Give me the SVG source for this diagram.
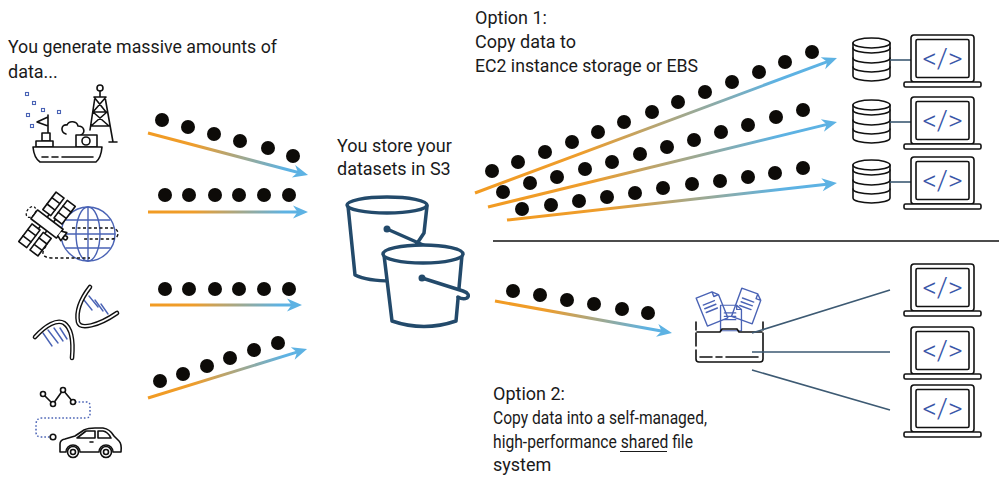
<svg xmlns="http://www.w3.org/2000/svg" width="999" height="478" viewBox="0 0 999 478">
  <style>
    .txt { font-family: Roboto, "Liberation Sans", sans-serif; font-size: 18px; fill: #1a1a1a; }
    .code { font-family: Roboto, "DejaVu Sans", sans-serif; font-weight: 300; font-size: 28px; fill: #3a56a8; text-anchor: middle; }
    .dot { fill: #0d0b08; }
    .flow { stroke-width: 3; fill: none; }
    .ln { fill: none; stroke: #111; stroke-width: 1.6; stroke-linecap: round; stroke-linejoin: round; }
    .lnw { fill: #fff; stroke: #111; stroke-width: 1.6; stroke-linecap: round; stroke-linejoin: round; }
    .blue { fill: none; stroke: #4a63b5; stroke-width: 1.4; stroke-linecap: round; stroke-linejoin: round; }
    .bucket { fill: #fff; stroke: #234a6b; stroke-width: 3.5; stroke-linecap: round; stroke-linejoin: round; }
    .wire { stroke: #3d5a73; stroke-width: 1.6; fill: none; }
    .dna { fill: none; stroke: #111; stroke-width: 4.6; stroke-linecap: round; }
    .dna-in { fill: none; stroke: #fff; stroke-width: 1.8; stroke-linecap: round; }
  </style>
  <defs>
    <marker id="head" markerUnits="userSpaceOnUse" markerWidth="20" markerHeight="20" refX="0" refY="0" viewBox="-10 -10 20 20" orient="auto" overflow="visible">
      <path d="M8,0 L-7,-6.5 L-2.5,0 L-7,6.5 Z" fill="#5db2e3"/>
    </marker>
    <linearGradient id="gL1" gradientUnits="userSpaceOnUse" x1="148" y1="133" x2="300" y2="173"><stop offset="0" stop-color="#f29b22"/><stop offset="0.3" stop-color="#ee9d2c"/><stop offset="0.9" stop-color="#5db2e3"/></linearGradient>
    <linearGradient id="gL2" gradientUnits="userSpaceOnUse" x1="148" y1="212" x2="300" y2="212"><stop offset="0" stop-color="#f29b22"/><stop offset="0.3" stop-color="#ee9d2c"/><stop offset="0.9" stop-color="#5db2e3"/></linearGradient>
    <linearGradient id="gL3" gradientUnits="userSpaceOnUse" x1="150" y1="305" x2="294" y2="305"><stop offset="0" stop-color="#f29b22"/><stop offset="0.3" stop-color="#ee9d2c"/><stop offset="0.9" stop-color="#5db2e3"/></linearGradient>
    <linearGradient id="gL4" gradientUnits="userSpaceOnUse" x1="148" y1="398" x2="299" y2="351"><stop offset="0" stop-color="#f29b22"/><stop offset="0.3" stop-color="#ee9d2c"/><stop offset="0.9" stop-color="#5db2e3"/></linearGradient>
    <linearGradient id="gA" gradientUnits="userSpaceOnUse" x1="475" y1="193" x2="830" y2="61"><stop offset="0" stop-color="#f29b22"/><stop offset="0.3" stop-color="#ee9d2c"/><stop offset="0.85" stop-color="#5db2e3"/></linearGradient>
    <linearGradient id="gB" gradientUnits="userSpaceOnUse" x1="488" y1="207" x2="829" y2="124"><stop offset="0" stop-color="#f29b22"/><stop offset="0.3" stop-color="#ee9d2c"/><stop offset="0.85" stop-color="#5db2e3"/></linearGradient>
    <linearGradient id="gC" gradientUnits="userSpaceOnUse" x1="507" y1="220" x2="829" y2="184"><stop offset="0" stop-color="#f29b22"/><stop offset="0.3" stop-color="#ee9d2c"/><stop offset="0.85" stop-color="#5db2e3"/></linearGradient>
    <linearGradient id="gD" gradientUnits="userSpaceOnUse" x1="495" y1="301" x2="664" y2="332"><stop offset="0" stop-color="#f29b22"/><stop offset="0.3" stop-color="#ee9d2c"/><stop offset="0.9" stop-color="#5db2e3"/></linearGradient>

    <!-- laptop with code symbol; origin at top-left of the screen -->
    <g id="laptop">
      <rect x="0" y="0" width="63" height="47" rx="3" class="lnw"/>
      <rect x="5" y="4.5" width="53" height="38" rx="1.5" class="ln" stroke-width="1.3"/>
      <rect x="-7" y="47" width="77" height="5" rx="1.5" class="lnw"/>
      <text x="31.5" y="33" class="code">&lt;/&gt;</text>
    </g>
    <!-- database cylinder; origin at top-left -->
    <g id="db">
      <path d="M0,5 V38 A18.5,5 0 0 0 37,38 V5" class="lnw"/>
      <ellipse cx="18.5" cy="5" rx="18.5" ry="5" class="lnw"/>
      <path d="M0,10 A18.5,5 0 0 0 37,10 M0,20 A18.5,5 0 0 0 37,20 M0,29 A18.5,5 0 0 0 37,29" class="ln"/>
    </g>
    <!-- sheet of paper with folded corner -->
    <g id="sheet">
      <path d="M-11,-15 H6 L11,-10 V15 H-11 Z M6,-15 V-10 H11" fill="#fff" class="blue"/>
      <path d="M-7,-6 H5 M-7,-2 H5 M-7,2 H5" class="blue"/>
    </g>
  </defs>

  <rect width="999" height="478" fill="#fff"/>

  <!-- captions -->
  <g id="labels">
    <text class="txt" x="8" y="53" textLength="269" lengthAdjust="spacingAndGlyphs">You generate massive amounts of</text>
    <text class="txt" x="8" y="78">data...</text>
    <text class="txt" x="475" y="24">Option 1:</text>
    <text class="txt" x="475" y="48">Copy data to</text>
    <text class="txt" x="475" y="72" textLength="223" lengthAdjust="spacingAndGlyphs">EC2 instance storage or EBS</text>
    <text class="txt" x="337" y="152">You store your</text>
    <text class="txt" x="337" y="175">datasets in S3</text>
    <text class="txt" x="493" y="400">Option 2:</text>
    <text class="txt" x="493" y="424" textLength="214" lengthAdjust="spacingAndGlyphs">Copy data into a self-managed,</text>
    <text class="txt" x="493" y="448" textLength="200" lengthAdjust="spacingAndGlyphs">high-performance shared file</text>
    <!-- underline beneath "shared" -->
    <line x1="620" y1="451.5" x2="667" y2="451.5" stroke="#1a1a1a" stroke-width="1.2"/>
    <text class="txt" x="493" y="471">system</text>
  </g>

  <!-- source: ship and oil rig -->
  <g id="src-ship">
    <g fill="none" stroke="#4a63b5" stroke-width="1.1">
      <rect x="25.5" y="92.5" width="3" height="3"/>
      <rect x="32.5" y="101.5" width="3" height="3"/>
      <rect x="41.5" y="108.5" width="3" height="3"/>
      <rect x="57.5" y="110.5" width="3" height="3"/>
      <rect x="26.5" y="113.5" width="3" height="3"/>
      <rect x="30.5" y="124.5" width="3" height="3"/>
    </g>
    <path d="M48,115 V133 M48,117 L37,122 L48,126" class="ln"/>
    <rect x="42" y="133" width="8" height="8" class="lnw"/>
    <rect x="36" y="141" width="17" height="6" class="lnw"/>
    <path d="M66,134 C60,132 61,124 67,125 C69,120 77,121 78,126 C84,126 86,132 81,135" class="ln"/>
    <rect x="76" y="135" width="21" height="12" class="lnw"/>
    <circle cx="86" cy="141" r="4" class="ln"/>
    <path d="M33,147 H102 Q101,158 96,162 H40 Q34,158 33,147 Z" class="lnw"/>
    <path d="M42,157 h6 M52,157 h6 M62,157 h31" class="ln"/>
    <circle cx="100" cy="88" r="3" class="ln"/>
    <path d="M100,91 V97 M94,97 H106 M95,97 L90,130 M105,97 L113,142 M94,97 L106,112 M106,97 L93,112 M93,112 H107 M93,112 L109,126 M107,112 L91,126 M91,126 H110 M109,142 H117" class="ln"/>
  </g>

  <!-- source: satellite over globe -->
  <g id="src-satellite">
    <circle cx="88" cy="234" r="27" class="blue"/>
    <ellipse cx="88" cy="234" rx="12" ry="27" class="blue"/>
    <path d="M88,207 V261 M66,220 H110 M61,234 H115 M66,248 H110" class="blue"/>
    <path d="M72,228 H112 A6,5.5 0 0 1 112,239 H84 M46,246 Q38,257 51,258 H90" fill="none" stroke="#111" stroke-width="1.4" stroke-dasharray="3,2.5"/>
    <g transform="translate(47,224) rotate(37)">
      <path d="M-4,-5.5 V-9 M4,-5.5 V-9 M-4,5.5 V9 M4,5.5 V9" class="ln"/>
      <rect x="-12" y="-31" width="10" height="22" class="lnw"/>
      <rect x="2" y="-31" width="10" height="22" class="lnw"/>
      <rect x="-12" y="9" width="10" height="22" class="lnw"/>
      <rect x="2" y="9" width="10" height="22" class="lnw"/>
      <path d="M-12,-24 H-2 M-12,-16 H-2 M2,-24 H12 M2,-16 H12 M-12,16 H-2 M-12,24 H-2 M2,16 H12 M2,24 H12" class="ln" stroke-width="1.2"/>
      <rect x="-16" y="-5.5" width="32" height="11" class="lnw"/>
      <path d="M16,-3 L21,-5 V5 L16,3" class="lnw"/>
      <circle cx="23" cy="0" r="2" class="lnw"/>
      <ellipse cx="-20" cy="0" rx="4" ry="6" fill="none" stroke="#111" stroke-width="1.3" stroke-dasharray="2.5,2"/>
    </g>
  </g>

  <!-- source: DNA helix -->
  <g id="src-dna">
    <path d="M84,300 L92,310 M89,296 L98,307 M95,300 L103,311 M101,304 L108,314" class="blue"/>
    <path d="M43,333 L52,346 M48,330 L58,343 M54,328 L63,341 M60,328 L67,339" class="blue"/>
    <path d="M35,337 C46,325 57,319 64,323 C70,327 74,336 72,358" class="dna"/>
    <path d="M35,337 C46,325 57,319 64,323 C70,327 74,336 72,358" class="dna-in"/>
    <path d="M90,287 C80,300 76,312 78,322 C80,330 98,326 117,313" class="dna"/>
    <path d="M90,287 C80,300 76,312 78,322 C80,330 98,326 117,313" class="dna-in"/>
  </g>

  <!-- source: connected car -->
  <g id="src-car">
    <path d="M75,402 H87 Q90,402 90,406 V414 Q90,418 86,418 H42 Q36,418 36,425 V432 Q36,437 41,437 H50" fill="none" stroke="#4a63b5" stroke-width="1.5" stroke-dasharray="1.6,2"/>
    <path d="M43,394 L53,404 L63,390 L73,402" class="ln"/>
    <circle cx="43" cy="394" r="2.5" class="lnw"/>
    <circle cx="53" cy="404" r="2.5" class="lnw"/>
    <circle cx="63" cy="390" r="2.5" class="lnw"/>
    <circle cx="73" cy="402" r="2.5" class="lnw"/>
    <circle cx="53" cy="437" r="2.8" class="lnw"/>
    <path d="M60,452 V444 Q60,440 65,439 L75,436 L84,430 Q88,428 95,428 H103 Q110,429 114,436 L119,441 Q122,444 121,452 H113 A7,7 0 0 0 99,452 H80 A7,7 0 0 0 66,452 Z" class="lnw"/>
    <path d="M77,438 L86,431 H95 V438 Z M98,431 H103 Q108,432 111,438 H98 Z M90,442 h3" class="ln" stroke-width="1.3"/>
    <circle cx="73" cy="452" r="5.5" class="lnw"/>
    <circle cx="73" cy="452" r="2.5" class="ln"/>
    <circle cx="106" cy="452" r="5.5" class="lnw"/>
    <circle cx="106" cy="452" r="2.5" class="ln"/>
  </g>

  <!-- S3 buckets -->
  <g id="s3-buckets">
    <path d="M348,206 L355,275 Q367,281 392,281 L424,233 L427,206 Z" class="bucket"/>
    <ellipse cx="387" cy="205" rx="40" ry="8" class="bucket"/>
    <path d="M387,229 L430,248" class="bucket"/>
    <circle cx="387" cy="229" r="2.5" fill="#234a6b" stroke="#234a6b" stroke-width="2"/>
    <path d="M384,255 L392,321 Q424,332 456,321 L462,255 Z" class="bucket"/>
    <ellipse cx="423" cy="254" rx="40" ry="9" class="bucket"/>
    <path d="M422,278 L463,291 Q471,294 467,298 Q463,300 458,297" class="bucket" fill="none"/>
    <circle cx="422" cy="278" r="2.5" fill="#234a6b" stroke="#234a6b" stroke-width="2"/>
  </g>

  <!-- shared file system folder -->
  <g id="file-share">
    <use href="#sheet" transform="translate(712,308) rotate(-22)"/>
    <use href="#sheet" transform="translate(747,306) rotate(20)"/>
    <use href="#sheet" transform="translate(731,318) scale(0.95,0.85)"/>
    <path d="M696,322 V330 M763,322 V330" class="ln"/>
    <path d="M697,332 H720 L722,329 H737 L739,332 H762" class="ln"/>
    <path d="M696,333 V346 M696,350 V359 Q696,362 699,362 H760 Q763,362 763,359 V333" class="ln"/>
    <path d="M700,357 H712 M716,357 H722 M726,357 H758" class="ln"/>
  </g>

  <!-- compute nodes, option 1 -->
  <g id="ec2-1"><use href="#db" x="853" y="38"/><line x1="890" y1="60" x2="911" y2="60" class="wire"/><use href="#laptop" x="911" y="35"/></g>
  <g id="ec2-2"><use href="#db" x="853" y="100"/><line x1="890" y1="122" x2="911" y2="122" class="wire"/><use href="#laptop" x="911" y="97"/></g>
  <g id="ec2-3"><use href="#db" x="853" y="160"/><line x1="890" y1="182" x2="911" y2="182" class="wire"/><use href="#laptop" x="911" y="157"/></g>

  <!-- compute nodes, option 2 -->
  <g id="client-1"><use href="#laptop" x="911" y="264"/></g>
  <g id="client-2"><use href="#laptop" x="911" y="327"/></g>
  <g id="client-3"><use href="#laptop" x="911" y="385"/></g>

  <!-- connectors -->
  <g id="connectors">
    <line x1="493" y1="241" x2="999" y2="241" stroke="#111" stroke-width="1.6"/>
    <path d="M752,333 L890,290 M752,352 L890,352 M752,370 L890,410" class="wire"/>

    <line x1="148" y1="133" x2="300.3" y2="173" class="flow" stroke="url(#gL1)" marker-end="url(#head)"/>
    <line x1="148" y1="212" x2="300" y2="212.01" class="flow" stroke="url(#gL2)" marker-end="url(#head)"/>
    <line x1="150" y1="305" x2="294" y2="305.01" class="flow" stroke="url(#gL3)" marker-end="url(#head)"/>
    <line x1="148" y1="398" x2="299.4" y2="351.4" class="flow" stroke="url(#gL4)" marker-end="url(#head)"/>
    <line x1="475" y1="193" x2="829.5" y2="60.8" class="flow" stroke="url(#gA)" marker-end="url(#head)"/>
    <line x1="488" y1="207" x2="829.2" y2="123.9" class="flow" stroke="url(#gB)" marker-end="url(#head)"/>
    <line x1="507" y1="220" x2="829" y2="183.9" class="flow" stroke="url(#gC)" marker-end="url(#head)"/>
    <line x1="495" y1="301" x2="664.1" y2="331.6" class="flow" stroke="url(#gD)" marker-end="url(#head)"/>

    <g class="dot">
      <circle cx="162" cy="120" r="7"/><circle cx="188" cy="127" r="7"/><circle cx="214" cy="134" r="7"/><circle cx="240" cy="141" r="7"/><circle cx="268" cy="148" r="7"/><circle cx="293" cy="156" r="7"/>
      <circle cx="165" cy="195" r="7"/><circle cx="189" cy="195" r="7"/><circle cx="215" cy="195" r="7"/><circle cx="239" cy="195" r="7"/><circle cx="264" cy="195" r="7"/><circle cx="289" cy="195" r="7"/>
      <circle cx="165" cy="289" r="7"/><circle cx="189" cy="289" r="7"/><circle cx="215" cy="289" r="7"/><circle cx="239" cy="289" r="7"/><circle cx="264" cy="289" r="7"/><circle cx="289" cy="289" r="7"/>
      <circle cx="160" cy="381" r="7"/><circle cx="183" cy="374" r="7"/><circle cx="207" cy="366" r="7"/><circle cx="230" cy="358" r="7"/><circle cx="254" cy="350" r="7"/><circle cx="278" cy="343" r="7"/>

      <circle cx="492" cy="171" r="7"/><circle cx="518" cy="162" r="7"/><circle cx="545" cy="152" r="7"/><circle cx="572" cy="142" r="7"/><circle cx="598" cy="132" r="7"/><circle cx="624" cy="122" r="7"/><circle cx="652" cy="112" r="7"/><circle cx="678" cy="102" r="7"/><circle cx="705" cy="92" r="7"/><circle cx="732" cy="82" r="7"/><circle cx="759" cy="72" r="7"/><circle cx="785" cy="62" r="7"/><circle cx="812" cy="52" r="7"/>
      <circle cx="503" cy="192" r="7"/><circle cx="530" cy="183" r="7"/><circle cx="557" cy="177" r="7"/><circle cx="585" cy="169" r="7"/><circle cx="612" cy="162" r="7"/><circle cx="640" cy="154" r="7"/><circle cx="667" cy="147" r="7"/><circle cx="694" cy="140" r="7"/><circle cx="721" cy="132" r="7"/><circle cx="748" cy="125" r="7"/><circle cx="776" cy="117" r="7"/><circle cx="803" cy="110" r="7"/>
      <circle cx="522" cy="209" r="7"/><circle cx="551" cy="205" r="7"/><circle cx="579" cy="201" r="7"/><circle cx="607" cy="197" r="7"/><circle cx="635" cy="193" r="7"/><circle cx="663" cy="188" r="7"/><circle cx="692" cy="184" r="7"/><circle cx="720" cy="181" r="7"/><circle cx="748" cy="177" r="7"/><circle cx="775" cy="173" r="7"/><circle cx="803" cy="168" r="7"/>

      <circle cx="513" cy="291" r="7"/><circle cx="540" cy="295" r="7"/><circle cx="567" cy="300" r="7"/><circle cx="594" cy="304" r="7"/><circle cx="622" cy="309" r="7"/><circle cx="648" cy="313" r="7"/>
    </g>
  </g>
</svg>
